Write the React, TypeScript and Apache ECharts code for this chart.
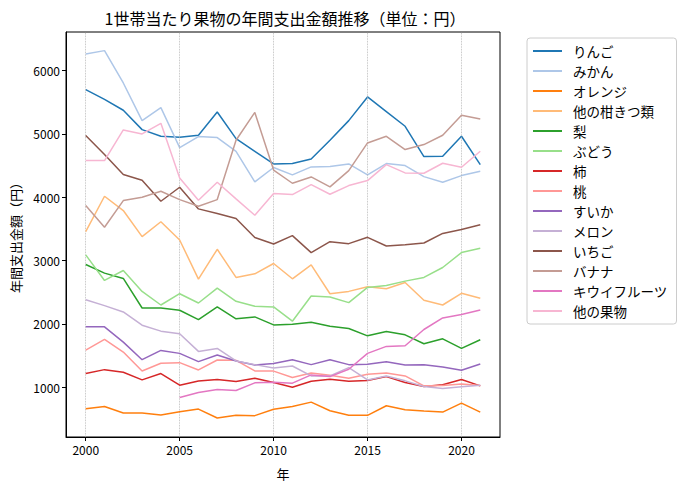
import { useEffect, useRef } from 'react';
import * as echarts from 'echarts';

const years = [2000, 2001, 2002, 2003, 2004, 2005, 2006, 2007, 2008, 2009, 2010,
  2011, 2012, 2013, 2014, 2015, 2016, 2017, 2018, 2019, 2020, 2021];

const fruitNames = ['りんご', 'みかん', 'オレンジ', '他の柑きつ類', '梨', 'ぶどう', '柿', '桃',
  'すいか', 'メロン', 'いちご', 'バナナ', 'キウイフルーツ', '他の果物'];

const ringo = [5700, 5547, 5374, 5068, 4963, 4947, 4979, 5347, 4926, 4726, 4526,
  4532, 4605, 4900, 5210, 5584, 5352, 5121, 4642, 4647, 4963, 4516];
const mikan = [6263, 6316, 5805, 5211, 5416, 4784, 4958, 4942, 4726, 4242, 4470,
  4353, 4479, 4484, 4526, 4353, 4532, 4500, 4326, 4237, 4342, 4411];
const orange = [660, 696, 591, 591, 560, 612, 654, 513, 555, 550, 650,
  696, 764, 628, 555, 555, 707, 644, 623, 607, 749, 607];
const otherCitrus = [3456, 4016, 3790, 3377, 3613, 3325, 2707, 3178, 2733, 2791, 2953,
  2712, 2932, 2476, 2513, 2586, 2555, 2654, 2372, 2298, 2482, 2403];
const nashi = [2937, 2801, 2717, 2251, 2251, 2215, 2068, 2267, 2079, 2110, 1984,
  1995, 2026, 1963, 1927, 1811, 1880, 1827, 1686, 1764, 1612, 1749];
const budou = [3089, 2686, 2843, 2513, 2298, 2476, 2330, 2565, 2356, 2277, 2267,
  2042, 2440, 2424, 2335, 2576, 2607, 2675, 2733, 2890, 3126, 3194];
const kaki = [1215, 1277, 1235, 1115, 1215, 1031, 1099, 1120, 1089, 1141, 1073,
  1000, 1094, 1126, 1094, 1105, 1167, 1073, 1010, 1037, 1120, 1021];
const momo = [1586, 1754, 1555, 1256, 1377, 1387, 1272, 1429, 1424, 1256, 1254,
  1152, 1225, 1188, 1141, 1204, 1225, 1178, 1021, 1026, 1052, 1026];
const suika = [1953, 1953, 1712, 1434, 1581, 1534, 1403, 1508, 1414, 1351, 1375,
  1434, 1356, 1434, 1356, 1361, 1403, 1351, 1356, 1319, 1267, 1367];
const melon = [2382, 2288, 2188, 1979, 1885, 1843, 1565, 1612, 1414, 1356, 1304,
  1335, 1178, 1178, 1309, 1115, 1178, 1100, 1010, 979, 1005, 1031];
const ichigo = [4974, 4674, 4358, 4268, 3937, 4158, 3816, 3742, 3663, 3365, 3262,
  3393, 3126, 3298, 3267, 3367, 3230, 3251, 3277, 3429, 3492, 3565];
const banana = [3868, 3526, 3947, 4000, 4095, 3963, 3858, 3963, 4900, 5340, 4430,
  4221, 4321, 4163, 4421, 4858, 4963, 4753, 4832, 4979, 5295, 5237];
const kiwi = [null, null, null, null, null, 838, 916, 963, 947, 1068, 1078,
  1063, 1194, 1167, 1283, 1534, 1644, 1654, 1911, 2094, 2147, 2220];
const otherFruit = [4579, 4579, 5063, 5000, 5168, 4305, 3953, 4237, 3974, 3716, 4058,
  4042, 4200, 4047, 4184, 4263, 4516, 4384, 4379, 4537, 4474, 4726];

const seriesValues = [ringo, mikan, orange, otherCitrus, nashi, budou, kaki, momo,
  suika, melon, ichigo, banana, kiwi, otherFruit];

const xTicks = [2000, 2005, 2010, 2015, 2020];
const yTicks = [1000, 2000, 3000, 4000, 5000, 6000];

const colors = ['#1f77b4', '#aec7e8', '#ff7f0e', '#ffbb78', '#2ca02c', '#98df8a', '#d62728',
  '#ff9896', '#9467bd', '#c5b0d5', '#8c564b', '#c49c94', '#e377c2', '#f7b6d2'];

const FONT = '"Noto Sans CJK JP", "Noto Sans", sans-serif';

export default function App() {
  const chartRef = useRef<HTMLDivElement>(null);

  useEffect(() => {
    if (!chartRef.current) return;
    const chart = echarts.init(chartRef.current, null, { renderer: 'svg' });

    const series: any[] = fruitNames.map((name, i) => ({
      name,
      type: 'line',
      symbol: 'none',
      data: years.map((y, j) => [y, seriesValues[i][j]]),
      lineStyle: { width: 1.5, color: colors[i] },
      itemStyle: { color: colors[i] },
      z: 3 + i,
    }));

    // vertical dotted grid lines (x grid only)
    series.push({
      name: '_grid',
      type: 'line',
      data: [],
      silent: true,
      z: 1,
      markLine: {
        silent: true,
        symbol: 'none',
        label: { show: false },
        lineStyle: { type: 'dotted', color: '#b0b0b0', width: 0.8 },
        data: xTicks.map((x) => ({ xAxis: x })),
      },
    });

    const option: echarts.EChartsOption = {
      animation: false,
      color: colors,
      textStyle: { fontFamily: FONT },
      title: {
        text: '1世帯当たり果物の年間支出金額推移（単位：円）',
        left: 280,
        top: 5,
        textAlign: 'center',
        textStyle: { fontFamily: FONT, fontSize: 16, fontWeight: 'normal', color: '#000' },
      },
      legend: {
        data: fruitNames.map((name) => ({ name, icon: 'rect' })),
        orient: 'vertical',
        left: 527,
        top: 38,
        padding: [6, 9, 6, 6],
        itemGap: 6,
        itemWidth: 29,
        itemHeight: 2,
        borderColor: '#cccccc',
        borderWidth: 1,
        borderRadius: 3,
        textStyle: {
          fontFamily: FONT, fontSize: 13.5, color: '#000', lineHeight: 14,
          padding: [0, 0, 0, 6],
        },
      },
      grid: {
        left: 66,
        top: 32,
        width: 434,
        height: 405,
        show: true,
        borderColor: '#000',
        borderWidth: 1,
        backgroundColor: 'transparent',
      },
      xAxis: {
        type: 'value',
        min: 1998.95,
        max: 2022.05,
        name: '年',
        nameLocation: 'middle',
        nameGap: 30,
        nameTextStyle: { fontFamily: FONT, fontSize: 13, color: '#000' },
        axisLine: { show: true, lineStyle: { color: '#000' } },
        axisTick: { show: true, length: 4, customValues: xTicks, lineStyle: { color: '#000' } },
        axisLabel: {
          customValues: xTicks, fontFamily: FONT, fontSize: 12, color: '#000', margin: 6,
          formatter: (v: number) => String(v),
        },
        splitLine: { show: false },
      },
      yAxis: {
        type: 'value',
        min: 213,
        max: 6610,
        name: '年間支出金額（円）',
        nameLocation: 'middle',
        nameGap: 43,
        nameRotate: 90,
        nameTextStyle: { fontFamily: FONT, fontSize: 13, color: '#000' },
        axisLine: { show: true, lineStyle: { color: '#000' } },
        axisTick: { show: true, length: 4, customValues: yTicks, lineStyle: { color: '#000' } },
        axisLabel: {
          customValues: yTicks, fontFamily: FONT, fontSize: 12, color: '#000', margin: 6,
          formatter: (v: number) => String(v),
        },
        splitLine: { show: false },
      },
      series,
    };

    chart.setOption(option);
    return () => {
      chart.dispose();
    };
  }, []);

  return (
    <div
      ref={chartRef}
      style={{ position: 'fixed', left: 0, top: 0, width: '684px', height: '489px', background: '#fff' }}
    />
  );
}
